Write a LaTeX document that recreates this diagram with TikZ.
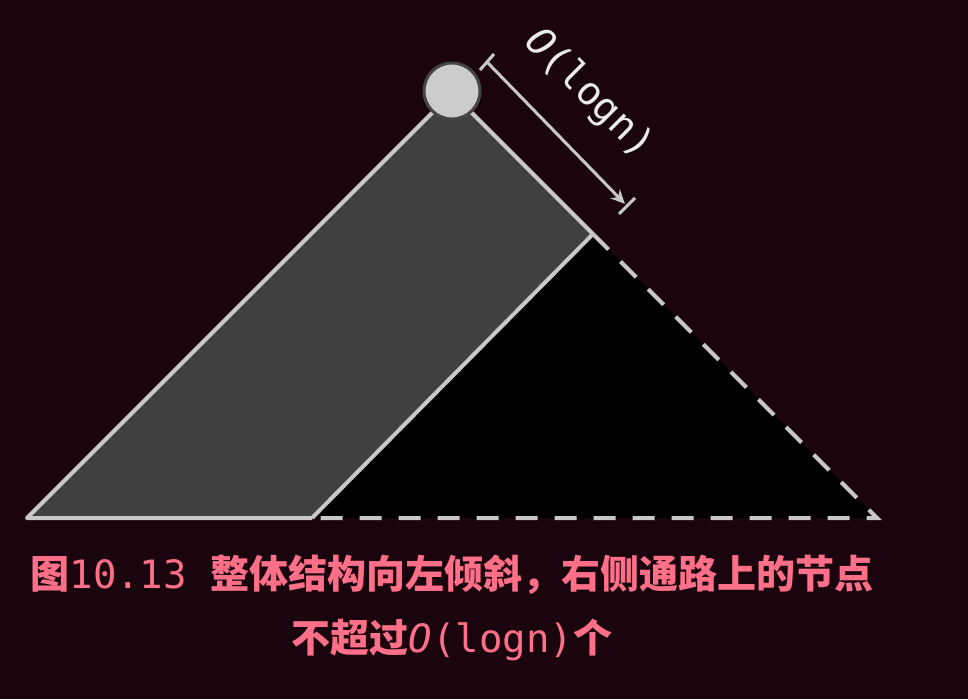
\documentclass[tikz,border=0pt]{standalone}
\usepackage{fontspec}
\setmonofont{DejaVu Sans Mono}
\newfontfamily\cjk{Noto Sans CJK SC}
\usetikzlibrary{calc,arrows.meta}

\definecolor{bgdark}{HTML}{1A050F}
\definecolor{edgegray}{HTML}{C8C8C8}
\definecolor{fillgray}{HTML}{404040}
\definecolor{rootgray}{HTML}{CCCCCC}
\definecolor{rimgray}{HTML}{454545}
\definecolor{captionpink}{HTML}{FF7088}

\newcommand{\zh}[1]{{\cjk\bfseries #1}}
\newcommand{\code}[1]{{\ttfamily\mdseries #1}}

\begin{document}
\begin{tikzpicture}[x=1pt,y=-1pt,
  edge/.style={draw=edgegray, line width=4pt},
  dashedge/.style={edge, dash pattern=on 22pt off 17pt},
  marker/.style={draw=edgegray, line width=3pt},
  caption/.style={text=captionpink, anchor=base, font=\fontsize{39}{47}\selectfont}]

% background, fixes the margins
\fill[bgdark] (0,0) rectangle (968,699);

% Define the corners of the tree
\coordinate (apex)  at (452,93);
\coordinate (left)  at (27,518);
\coordinate (right) at (877,518);
\coordinate (mid)   at (593,234);
\coordinate (foot)  at (312,518);

% left-leaning band and the right subtree
\fill[fillgray] (left) -- (apex) -- (mid) -- (foot) -- cycle;
\fill[black] (foot) -- (mid) -- (right) -- cycle;
\draw[dashedge] (mid) -- (right) -- (foot);
\draw[edge, line join=round] (foot) -- (left) -- (apex) -- (mid) -- (foot);

% the root
\node[circle, fill=rootgray, draw=rimgray, line width=3pt,
      minimum size=56pt, inner sep=0pt] (root) at (452,91) {};

% height marker along the right path
\coordinate (top) at (487,62);
\coordinate (bot) at (627,206);
\draw[marker] ($(top)+(-7,8)$) -- ($(top)+(7,-8)$);
\draw[marker] ($(bot)+(-8,8)$) -- ($(bot)+(8,-8)$);
\draw[marker, -{Stealth[length=14pt,width=13pt]}, shorten >=3pt] (top) -- (bot);
\node[rotate=-45, text=white!92!black, font=\ttfamily\fontsize{39}{41}\selectfont]
  (height) at (589,94) {{\itshape O}(logn)};

% caption
\node[caption] (line1) at (452,588)
  {\zh{图}\code{10.13 }\zh{整体结构向左倾斜，右侧通路上的节点}};
\node[caption] (line2) at (452,652)
  {\zh{不超过}\code{\itshape O}\code{(logn)}\zh{个}};

\end{tikzpicture}
\end{document}
